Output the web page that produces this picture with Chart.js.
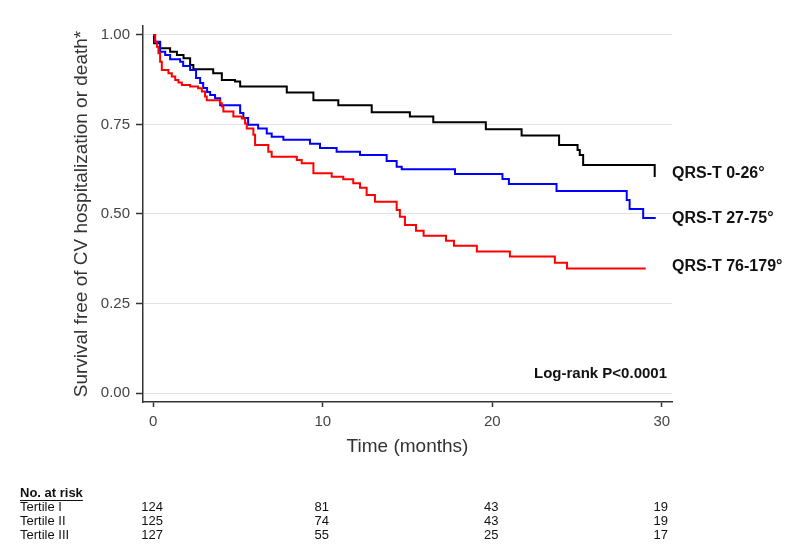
<!DOCTYPE html>
<html lang="en">
<head>
    <meta charset="UTF-8">
    <title>Survival free of CV hospitalization or death by QRS-T tertile</title>
    <script src="https://cdn.jsdelivr.net/npm/chart.js@4/dist/chart.umd.min.js"></script>
    <style>
        body {
            margin: 0;
            padding: 0;
            background-color: #ffffff;
        }
        canvas {
            display: block;
        }
    </style>
</head>
<body>
    <canvas id="kmChart" width="800" height="550"></canvas>

    <script>
        // Kaplan-Meier steps (months, survival)
        const tertile1Months = [0, 0.05, 0.41, 1.0, 1.4, 1.79, 2.18, 2.37, 3.54, 4.05, 4.83, 5.13, 7.88, 9.45, 10.92, 12.89, 15.14, 16.52, 19.62, 21.73, 23.94, 25.03, 25.16, 25.36, 29.58];
        const tertile1Surv   = [1.0, 0.977, 0.963, 0.953, 0.944, 0.935, 0.916, 0.904, 0.893, 0.874, 0.870, 0.856, 0.839, 0.818, 0.804, 0.784, 0.772, 0.756, 0.737, 0.719, 0.693, 0.679, 0.665, 0.637, 0.603];

        const tertile2Months = [0, 0.1, 0.41, 0.71, 1.0, 1.59, 1.77, 2.18, 2.53, 2.77, 2.95, 3.18, 3.36, 3.65, 3.95, 5.13, 5.32, 5.6, 6.19, 6.7, 6.99, 7.68, 9.25, 9.84, 10.82, 12.2, 13.77, 14.36, 14.66, 17.8, 20.6, 20.98, 23.79, 27.93, 28.1, 28.9, 29.64];
        const tertile2Surv   = [1.0, 0.981, 0.953, 0.944, 0.932, 0.925, 0.913, 0.902, 0.880, 0.866, 0.852, 0.841, 0.832, 0.823, 0.804, 0.782, 0.768, 0.749, 0.739, 0.725, 0.716, 0.707, 0.696, 0.684, 0.674, 0.665, 0.648, 0.632, 0.625, 0.612, 0.598, 0.584, 0.564, 0.539, 0.514, 0.489, 0.489];

        const tertile3Months = [0, 0.12, 0.22, 0.31, 0.41, 0.51, 0.9, 1.1, 1.3, 1.49, 1.69, 2.18, 2.65, 2.87, 3.06, 3.16, 3.95, 4.05, 4.14, 4.73, 5.23, 5.42, 5.52, 5.91, 6.01, 6.79, 6.99, 8.47, 8.76, 9.45, 10.53, 11.21, 11.8, 12.2, 12.59, 13.08, 14.36, 14.55, 14.85, 15.5, 15.95, 17.27, 17.74, 19.09, 21.04, 23.69, 24.41, 29.05];
        const tertile3Surv   = [1.0, 0.981, 0.967, 0.949, 0.925, 0.902, 0.893, 0.884, 0.874, 0.867, 0.860, 0.856, 0.851, 0.842, 0.828, 0.818, 0.809, 0.800, 0.786, 0.772, 0.767, 0.753, 0.739, 0.721, 0.693, 0.674, 0.660, 0.651, 0.642, 0.614, 0.604, 0.597, 0.586, 0.573, 0.553, 0.534, 0.511, 0.492, 0.469, 0.453, 0.439, 0.425, 0.411, 0.395, 0.381, 0.364, 0.348, 0.348];

        const curveLabels = ['QRS-T 0-26°', 'QRS-T 27-75°', 'QRS-T 76-179°'];

        // Number at risk table
        const riskMonths = [0, 10, 20, 30];
        const riskGroups = ['Tertile I', 'Tertile II', 'Tertile III'];
        const riskTertile1 = [124, 81, 43, 19];
        const riskTertile2 = [125, 74, 43, 19];
        const riskTertile3 = [127, 55, 25, 17];

        const xTicks = [0, 10, 20, 30];
        const yTicks = [0, 0.25, 0.5, 0.75, 1.0];

        const FONT = '"Liberation Sans", Arial, sans-serif';
        const NARROW = '"Liberation Sans Narrow", "Arial Narrow", "Liberation Sans", sans-serif';

        function toPoints(months, surv) {
            return months.map((m, i) => ({ x: m, y: surv[i] }));
        }

        // extra text: curve labels, log-rank, numbers at risk
        const annotations = {
            id: 'annotations',
            afterDraw(chart) {
                const ctx = chart.ctx;
                const xs = chart.scales.x;
                const ys = chart.scales.y;
                const area = chart.chartArea;

                ctx.save();
                ctx.fillStyle = '#111';
                ctx.font = 'bold 16px ' + FONT;
                ctx.textAlign = 'left';
                ctx.textBaseline = 'middle';
                const ends = [tertile1Surv, tertile2Surv, tertile3Surv].map(s => s[s.length - 1]);
                const nudge = [-4, 1, -2];
                curveLabels.forEach((lab, i) => {
                    ctx.fillText(lab, area.right, ys.getPixelForValue(ends[i]) + nudge[i]);
                });

                ctx.font = 'bold 15px ' + FONT;
                ctx.textAlign = 'right';
                ctx.textBaseline = 'alphabetic';
                ctx.fillText('Log-rank P<0.0001', area.right - 5, 378);

                // No. at risk
                ctx.font = 'bold 13px ' + NARROW;
                ctx.textAlign = 'left';
                ctx.textBaseline = 'middle';
                ctx.fillText('No. at risk', 20, 493);
                const w = ctx.measureText('No. at risk').width;
                ctx.fillRect(20, 500, w, 1);

                ctx.font = '13px ' + NARROW;
                const rows = [riskTertile1, riskTertile2, riskTertile3];
                rows.forEach((row, r) => {
                    const y = 507 + r * 14;
                    ctx.textAlign = 'left';
                    ctx.fillText(riskGroups[r], 20, y);
                    ctx.textAlign = 'center';
                    row.forEach((n, j) => {
                        ctx.fillText(String(n), xs.getPixelForValue(riskMonths[j]) - 1, y);
                    });
                });
                ctx.restore();
            }
        };

        const ctx = document.getElementById('kmChart').getContext('2d');
        new Chart(ctx, {
            type: 'line',
            data: {
                datasets: [
                    { label: curveLabels[2], data: toPoints(tertile3Months, tertile3Surv), borderColor: '#ff0000' },
                    { label: curveLabels[1], data: toPoints(tertile2Months, tertile2Surv), borderColor: '#0000ff' },
                    { label: curveLabels[0], data: toPoints(tertile1Months, tertile1Surv), borderColor: '#000000' }
                ]
            },
            options: {
                responsive: false,
                animation: false,
                elements: {
                    line: { borderWidth: 2, stepped: true, fill: false },
                    point: { radius: 0, hoverRadius: 0 }
                },
                layout: { padding: { left: 70, right: 128, top: 26, bottom: 88 } },
                plugins: {
                    legend: { display: false },
                    tooltip: { enabled: false }
                },
                scales: {
                    x: {
                        type: 'linear',
                        min: -0.6,
                        max: 30.6,
                        afterBuildTicks: s => { s.ticks = xTicks.map(v => ({ value: v })); },
                        afterFit: s => { s.height = 60; },
                        grid: { drawOnChartArea: false, tickLength: 5, tickColor: '#333', tickWidth: 1.5 },
                        border: { color: '#333', width: 1.5 },
                        ticks: { font: { size: 15, family: FONT }, color: '#444', padding: 6, maxRotation: 0 },
                        title: {
                            display: true,
                            text: 'Time (months)',
                            font: { size: 19, family: FONT },
                            color: '#333',
                            padding: { top: 0, bottom: 4 }
                        }
                    },
                    y: {
                        min: -0.025,
                        max: 1.025,
                        afterBuildTicks: s => { s.ticks = yTicks.map(v => ({ value: v })); },
                        afterFit: s => { s.width = 73; },
                        grid: { color: '#e2e2e2', lineWidth: 1, tickLength: 7, tickColor: '#333', tickWidth: 1.5 },
                        border: { color: '#333', width: 1.5 },
                        ticks: {
                            font: { size: 15, family: FONT },
                            color: '#444',
                            padding: 6,
                            callback: v => v.toFixed(2)
                        },
                        title: {
                            display: true,
                            text: 'Survival free of CV hospitalization or death*',
                            font: { size: 19, family: FONT },
                            color: '#333',
                            padding: 0
                        }
                    }
                }
            },
            plugins: [annotations]
        });
    </script>
</body>
</html>
